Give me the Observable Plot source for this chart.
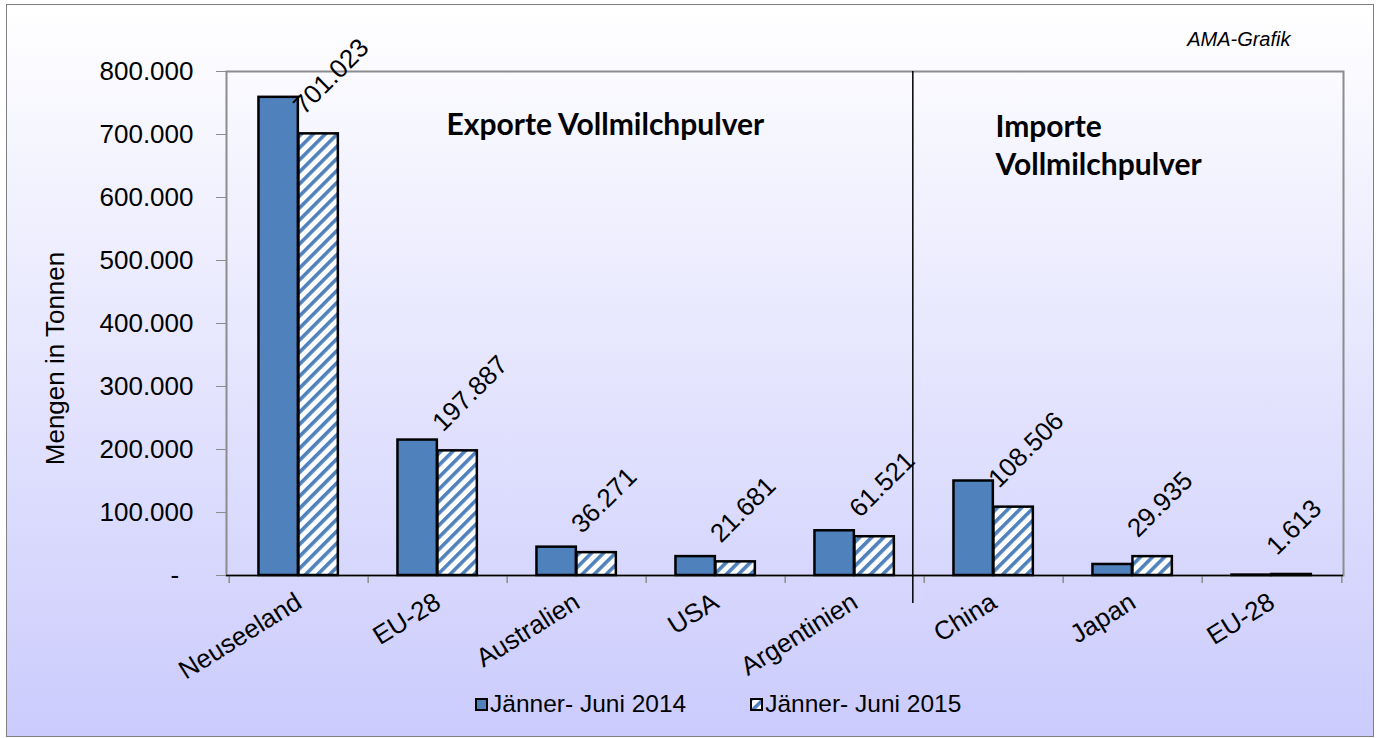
<!DOCTYPE html>
<html>
<head>
<meta charset="utf-8">
<script src="https://cdn.jsdelivr.net/npm/d3@7"></script>
<script src="https://cdn.jsdelivr.net/npm/@observablehq/plot@0.6"></script>
<style>
  html, body { margin: 0; padding: 0; background: #ffffff; }
  #frame {
    position: absolute; left: 6px; top: 4px; width: 1366px; height: 731px;
    border: 1px solid #7f7f7f;
    background: linear-gradient(to bottom, #ffffff 0%, #cbcbfd 100%);
    font-family: "Liberation Sans", Arial, sans-serif; overflow: hidden;
  }
  #chart { position: absolute; left: 0; top: 0; }
  #legend {
    position: absolute; left: 468px; top: 684px; display: flex; align-items: center;
    gap: 64px; font-size: 24.5px; color: #000; line-height: 30px;
  }
  .item { display: flex; align-items: center; gap: 2px; }
  .item svg { display: block; }
  #chart [aria-label="y-axis tick"] path { stroke: #8c8c8c; }
</style>
</head>
<body>
<div id="frame">
  <div id="chart"></div>
  <div id="legend"></div>
</div>
<script>
// ---------- data ----------
const categories = ["Neuseeland", "EU-28", "Australien", "USA", "Argentinien", "China", "Japan", "EU-28"];
const groups     = ["Export", "Export", "Export", "Export", "Export", "Import", "Import", "Import"];
const values2014 = [759000, 215000, 45000, 30000, 71000, 150000, 17500, 700];
const values2015 = [701023, 197887, 36271, 21681, 61521, 108506, 29935, 1613];
const seriesNames = ["Jänner- Juni 2014", "Jänner- Juni 2015"];
const yTicks = [0, 100000, 200000, 300000, 400000, 500000, 600000, 700000, 800000];
const yLabel = ["Mengen in Tonnen"];
const exportTitle = ["Exporte Vollmilchpulver"];
const importTitle = ["Importe\nVollmilchpulver"];
const sourceNote = ["AMA-Grafik"];

// ---------- helpers ----------
const de = d3.formatLocale({decimal: ",", thousands: ".", grouping: [3], currency: ["", " €"]});
const fmt = de.format(",d");
const keys = categories.map((c, i) => groups[i] + "|" + c);
const nameOf = new Map(keys.map((k, i) => [k, categories[i]]));
const rows = keys.map((k, i) => ({key: k, v14: values2014[i], v15: values2015[i]}));

const W = 1366, H = 640;
const mL = 219, mR = 30, mT = 66, mB = 70;
const bw = (W - mL - mR) / keys.length;      // category cell width
const gapL = 0.211 * bw, barW = 0.2865 * bw;  // Excel-like gap and bar width
const BLUE = "#4f81bd";

const lastExport = keys[groups.lastIndexOf("Export")];

const plot = Plot.plot({
  width: W, height: H,
  marginLeft: mL, marginRight: mR, marginTop: mT, marginBottom: mB,
  style: {background: "transparent", fontSize: "26px", fontFamily: "'Liberation Sans', Arial, sans-serif", color: "#000", overflow: "visible"},
  x: {domain: keys, padding: 0, tickFormat: k => nameOf.get(k), tickRotate: -32, tickSize: 0, tickPadding: 24, label: null},
  y: {domain: [0, 800000], ticks: yTicks, tickFormat: d => d === 0 ? "-\u2007" : fmt(d), tickSize: 10, tickPadding: 23, label: null},
  marks: [
    Plot.frame({stroke: "#8c8c8c", strokeWidth: 2}),
    // category boundary ticks on x axis
    Plot.ruleX(keys, {x: d => d, y1: 0, y2: 0, insetBottom: -8, dx: -bw / 2, stroke: "#8c8c8c", strokeWidth: 1.5}),
    Plot.ruleX([keys[keys.length - 1]], {x: d => d, y1: 0, y2: 0, insetBottom: -8, dx: bw / 2, stroke: "#8c8c8c", strokeWidth: 1.5}),
    // bars
    Plot.barY(rows, {x: "key", y: "v14", fill: BLUE, stroke: "#000", strokeWidth: 2.5,
      insetLeft: gapL, insetRight: bw - gapL - barW}),
    Plot.barY(rows, {x: "key", y: "v15", fill: "url(#hatch)", stroke: "#000", strokeWidth: 2.5,
      insetLeft: gapL + barW, insetRight: bw - gapL - 2 * barW}),
    Plot.ruleY([0], {stroke: "#000", strokeWidth: 1.5}),
    // value labels (2015)
    Plot.text(rows, {x: "key", y: "v15", text: d => fmt(d.v15), textAnchor: "start", rotate: -45,
      dx: -1, dy: -24, fontSize: 26}),
    // export / import divider
    Plot.ruleX([lastExport], {x: d => d, y1: 800000, y2: 0, insetBottom: -28, dx: bw / 2 - 12, stroke: "#000", strokeWidth: 1.5}),
    // annotations
    Plot.text(exportTitle, {frameAnchor: "top-left", textAnchor: "start", lineAnchor: "top", dx: 220, dy: 42,
      fontSize: 30, fontWeight: "bold", fontFamily: "Lato, 'Open Sans', sans-serif"}),
    Plot.text(importTitle, {frameAnchor: "top-left", textAnchor: "start", lineAnchor: "top", dx: 769, dy: 38,
      fontSize: 30, fontWeight: "bold", lineHeight: 1.27, fontFamily: "Lato, 'Open Sans', sans-serif"}),
    Plot.text(sourceNote, {frameAnchor: "top-right", textAnchor: "end", lineAnchor: "top", dx: -53, dy: -40,
      fontSize: 20, fontStyle: "italic"}),
    Plot.text(yLabel, {frameAnchor: "left", textAnchor: "middle", rotate: -90, dx: -171, dy: 35, fontSize: 26})
  ]
});

// hatch pattern for the 2015 series
function addHatch(svgNode, id) {
  const defs = d3.select(svgNode).insert("defs", ":first-child");
  const p = defs.append("pattern").attr("id", id).attr("patternUnits", "userSpaceOnUse")
    .attr("width", 8.5).attr("height", 8.5).attr("patternTransform", "rotate(45)");
  p.append("rect").attr("width", 8.5).attr("height", 8.5).attr("fill", "#ffffff");
  p.append("rect").attr("width", 3.6).attr("height", 8.5).attr("fill", BLUE);
}
addHatch(plot, "hatch");
document.getElementById("chart").appendChild(plot);

// legend
const legend = d3.select("#legend");
seriesNames.forEach((name, i) => {
  const item = legend.append("div").attr("class", "item");
  const sw = item.append("svg").attr("width", 13).attr("height", 13);
  if (i === 1) addHatch(sw.node(), "hatchLegend");
  sw.append("rect").attr("x", 1).attr("y", 1).attr("width", 11).attr("height", 11)
    .attr("fill", i === 0 ? BLUE : "url(#hatchLegend)").attr("stroke", "#000").attr("stroke-width", 2);
  item.append("span").text(name);
});
</script>
</body>
</html>
